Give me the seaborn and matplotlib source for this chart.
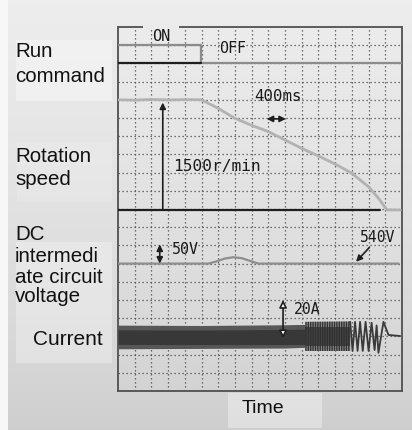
import numpy as np
import matplotlib
matplotlib.use("Agg")
import matplotlib.pyplot as plt
from matplotlib import font_manager
from matplotlib.patches import Rectangle
import seaborn as sns

# ---------------- data (grid divisions: x 0..17, y 0..20) ----------------
run_x = [0.0, 4.95, 4.95, 17.0]
run_y = [19.0, 19.0, 18.0, 18.0]
run_base_x = [0.0, 4.95]
run_base_y = [18.0, 18.0]

speed_x = [0.0, 1.0, 2.0, 3.0, 4.0, 5.0, 6.0, 7.0, 8.0, 9.0, 10.0, 11.0, 12.1,
           13.1, 14.0, 15.0, 15.6, 16.1, 16.9]
speed_y = [16.0, 15.98, 16.02, 15.99, 16.01, 16.0, 15.53, 14.98, 14.6, 14.25,
           13.79, 13.33, 12.87, 12.42, 11.96, 11.22, 10.58, 9.95, 9.95]
speed_base_x = [0.0, 15.7]
speed_base_y = [9.95, 9.95]

volt_x = [0.0, 5.4, 5.9, 6.4, 6.9, 7.4, 7.9, 8.4, 16.8]
volt_y = [7.0, 7.0, 7.12, 7.28, 7.35, 7.3, 7.15, 7.0, 7.0]

# current: envelope of the dense waveform, then the visible tail
band_x = [0.0, 5.0, 10.0, 11.2]
band_top = [3.62, 3.6, 3.64, 3.66]
band_bot = [2.32, 2.34, 2.36, 2.4]
core_top = [3.36, 3.35, 3.38, 3.4]
core_bot = [2.56, 2.55, 2.55, 2.56]
stripe_x = [11.2, 13.9]
stripe_top = [3.8, 3.82]
stripe_bot = [2.2, 2.2]
tail_x = [13.9, 14.04, 14.19, 14.34, 14.49, 14.65, 14.82, 15.0, 15.18, 15.36,
          15.48, 15.59, 15.89, 16.19, 16.89]
tail_y = [3.8, 2.2, 3.8, 2.2, 3.8, 2.2, 3.8, 2.2, 3.75, 2.25, 3.6, 2.1, 3.8,
          3.08, 3.02]

left_labels = [("Run", 57), ("command", 81.5), ("Rotation", 161.5), ("speed", 185),
               ("DC", 240), ("intermedi", 262), ("ate circuit", 283), ("voltage", 302.5)]
current_label = "Current"
time_label = "Time"

# ---------------- style ----------------
sns.set_theme(style="white")
plt.rcParams['font.family'] = ['Liberation Sans', 'DejaVu Sans']
plt.rcParams['hatch.linewidth'] = 1.0

names = {f.name for f in font_manager.fontManager.ttflist}
scope_font = 'DejaVu Sans Mono' if 'DejaVu Sans Mono' in names else 'DejaVu Sans'

W, H = 412, 430
fig = plt.figure(figsize=(W / 100, H / 100), dpi=100)

# background gradient panel
bg = fig.add_axes([0, 0, 1, 1])
bg.set_xlim(0, 1)
bg.set_ylim(0, 1)
bg.axis('off')
bg.add_patch(Rectangle((0, 0), 1, 1, color='#f7f7f7', zorder=0))
t = np.linspace(0, 1, 256)
lev = 0.805 + 0.125 * t ** 0.7
grad = np.repeat(lev[:, None, None], 3, axis=2)
bg.imshow(grad, extent=[8 / W, 1, 0, 1], aspect='auto', origin='lower', zorder=1)


def fbox(x0, y0, x1, y1, a):
    bg.add_patch(Rectangle((x0 / W, 1 - y1 / H), (x1 - x0) / W, (y1 - y0) / H,
                           color='white', alpha=a, lw=0, zorder=2))


fbox(16, 40, 112, 101, 0.35)
fbox(17, 142, 112, 202, 0.15)
fbox(16, 242, 112, 363, 0.3)
fbox(228, 393, 322, 428, 0.35)

# main scope axes
x0, x1, ytop, ybot = 118, 402, 27, 391
ax = fig.add_axes([x0 / W, 1 - ybot / H, (x1 - x0) / W, (ybot - ytop) / H])
ax.set_facecolor('none')
ax.set_xlim(0, 17)
ax.set_ylim(0, 20)
ax.set_xticks(range(1, 17))
ax.set_yticks(range(1, 20))
ax.tick_params(length=0, labelbottom=False, labelleft=False)
ax.grid(True, color='#4a4a4a', linestyle=(0, (1, 2.2)), linewidth=0.9)
ax.set_axisbelow(True)
for s in ['left', 'right', 'bottom']:
    ax.spines[s].set_color('#505050')
    ax.spines[s].set_linewidth(1.3)
ax.spines['top'].set_visible(False)
for seg in ([0, 1.5], [3.65, 17]):
    ax.plot(seg, [20, 20], color='#505050', lw=1.3, clip_on=False,
            solid_capstyle='butt', zorder=5)

# run command
sns.lineplot(x=run_x, y=run_y, ax=ax, color='#8c8c8c', lw=1.6,
             estimator=None, sort=False, legend=False, zorder=3)
sns.lineplot(x=run_base_x, y=run_base_y, ax=ax, color='#1e1e1e', lw=1.6,
             estimator=None, sort=False, legend=False, zorder=3)

# rotation speed
sns.lineplot(x=speed_base_x, y=speed_base_y, ax=ax, color='#1e1e1e', lw=1.6,
             estimator=None, sort=False, legend=False, zorder=3)
sns.lineplot(x=speed_x, y=speed_y, ax=ax, color='#b2b2b2', lw=2.0,
             estimator=None, sort=False, legend=False, zorder=3)

# DC voltage
sns.lineplot(x=volt_x, y=volt_y, ax=ax, color='#8e8e8e', lw=1.6,
             estimator=None, sort=False, legend=False, zorder=3)

# current
ax.fill_between(band_x, band_bot, band_top, color='#575757', lw=0, zorder=3)
ax.fill_between(band_x, core_bot, core_top, color='#383838', lw=0, zorder=3)
ax.fill_between(stripe_x, stripe_bot, stripe_top, facecolor='#8a8a8a',
                edgecolor='#353535', hatch='|||||||', lw=0, zorder=3)
ax.fill_between(stripe_x, [2.45, 2.45], [3.5, 3.5], facecolor='#454545',
                edgecolor='#303030', hatch='|||||||', lw=0, zorder=3)
sns.lineplot(x=tail_x, y=tail_y, ax=ax, color='#3a3a3a', lw=1.3,
             estimator=None, sort=False, legend=False, zorder=3)

# annotations
ak = dict(shrinkA=0, shrinkB=0, mutation_scale=9, lw=1.2)
ax.annotate('', xy=(2.68, speed_y[0] - 0.15), xytext=(2.68, speed_base_y[0]),
            arrowprops=dict(arrowstyle='-|>', color='#1e1e1e', **ak), zorder=6)
ax.annotate('', xy=(8.9, 14.95), xytext=(10.05, 14.95),
            arrowprops=dict(arrowstyle='<|-|>', color='#1e1e1e', **ak), zorder=6)
ax.annotate('', xy=(2.5, 8.05), xytext=(2.5, 7.0),
            arrowprops=dict(arrowstyle='<|-|>', color='#1e1e1e', **ak), zorder=6)
ax.annotate('', xy=(9.88, 5.0), xytext=(9.88, 2.9),
            arrowprops=dict(arrowstyle='<|-|>', fc='white', ec='#1e1e1e',
                            shrinkA=0, shrinkB=0, mutation_scale=11, lw=1.2), zorder=6)
ax.annotate('', xy=(14.25, 7.1), xytext=(15.04, 7.88),
            arrowprops=dict(arrowstyle='-|>', color='#1e1e1e', **ak), zorder=6)

tk = dict(family=scope_font, color='#1a1a1a', ha='center', va='center', zorder=7)
ax.text(2.6, 19.5, 'ON', fontsize=11, **tk)
ax.text(6.88, 18.8, 'OFF', fontsize=10.8, **tk)
ax.text(9.58, 16.17, '400ms', fontsize=11.3, **tk)
ax.text(5.93, 12.36, '1500r/min', fontsize=11.7, **tk)
ax.text(4.01, 7.8, '50V', fontsize=10.8, **tk)
ax.text(15.54, 8.43, '540V', fontsize=10.6, **tk)
ax.text(11.32, 4.5, '20A', fontsize=10.6, **tk)

# left labels
for txt, base in left_labels:
    fig.text(15 / W, 1 - base / H, txt, fontsize=14.8, color='#111111',
             ha='left', va='baseline')
fig.text(33 / W, 1 - 345 / H, current_label, fontsize=15, color='#111111',
         ha='left', va='baseline')
fig.text(262.5 / W, 1 - 413 / H, time_label, fontsize=14, color='#111111',
         ha='center', va='baseline')

fig.savefig('out.png', dpi=100)
